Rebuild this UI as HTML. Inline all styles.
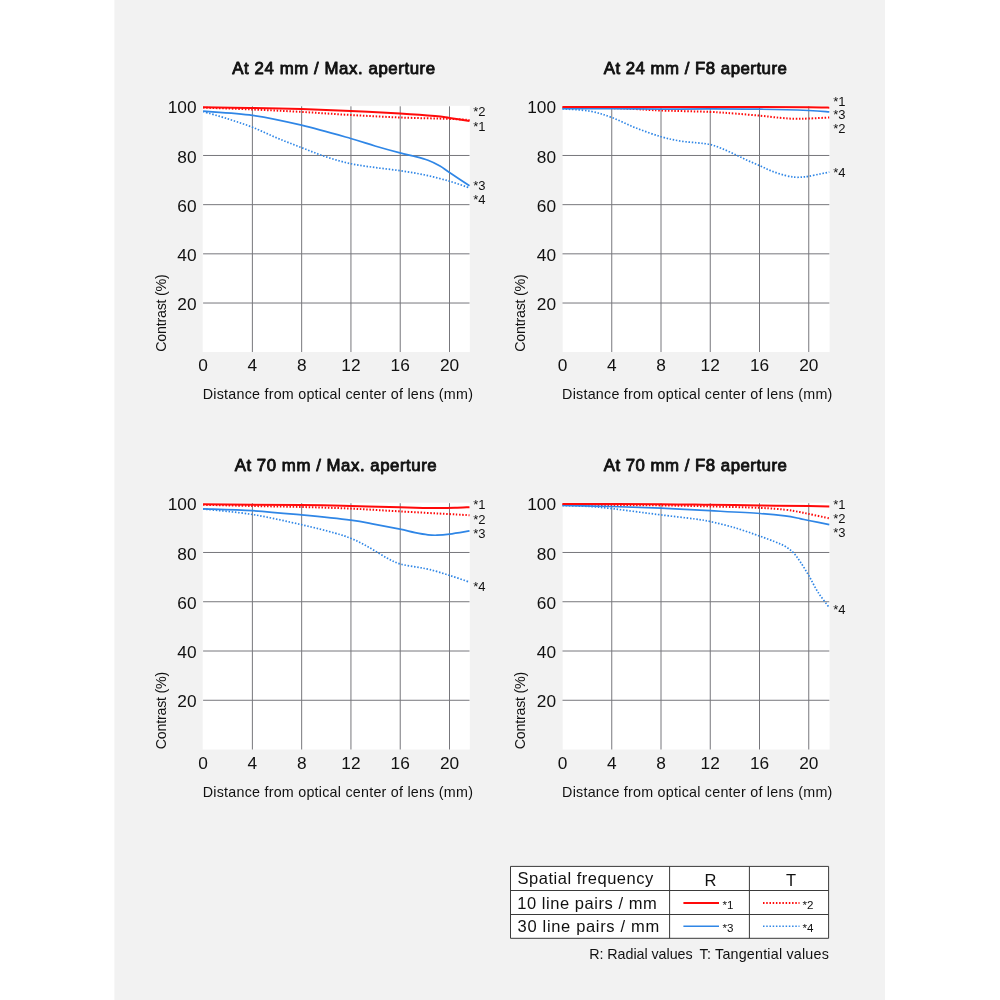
<!DOCTYPE html>
<html lang="en"><head><meta charset="utf-8"><title>MTF charts</title>
<style>
html,body{margin:0;padding:0;background:#fff;}
body{width:1000px;height:1000px;overflow:hidden;position:relative;}
svg{position:absolute;left:0;top:0;display:block;}
text{font-family:"Liberation Sans",sans-serif;fill:#111;}
.t{font-weight:normal;font-size:16.8px;fill:#111;stroke:#111;stroke-width:0.9px;stroke-linejoin:round;}
.tk{font-size:17.3px;}
.ax{font-size:14.3px;}
.sl{font-size:13px;}
.tb{font-size:16.5px;}
.lg{font-size:11.6px;}
.g{stroke:#77777c;stroke-width:1;fill:none;}
</style></head><body>
<svg width="1000" height="1000" viewBox="0 0 1000 1000">
<rect x="114.4" y="0" width="770.6" height="1000" fill="#f2f2f2"/>
<g>
<rect x="202.7" y="105.8" width="267.1" height="246.2" fill="#fff"/>
<path class="g" d="M252.38 106.30 V352.00 M301.66 106.30 V352.00 M350.94 106.30 V352.00 M400.22 106.30 V352.00 M449.50 106.30 V352.00 M203.10 155.48 H469.50 M203.10 204.66 H469.50 M203.10 253.84 H469.50 M203.10 303.02 H469.50"/>
<path d="M203.10 111.50 C207.25 112.73 219.77 116.27 228.00 118.90 C236.23 121.53 244.33 124.12 252.50 127.30 C260.67 130.48 268.83 134.62 277.00 138.00 C285.17 141.38 293.33 144.47 301.50 147.60 C309.67 150.73 317.80 154.12 326.00 156.80 C334.20 159.48 342.53 161.92 350.70 163.70 C358.87 165.48 366.78 166.33 375.00 167.50 C383.22 168.67 391.67 169.45 400.00 170.70 C408.33 171.95 416.75 173.25 425.00 175.00 C433.25 176.75 442.08 179.05 449.50 181.20 C456.92 183.35 466.17 186.78 469.50 187.90" fill="none" stroke="#2f86e6" stroke-width="1.7" stroke-dasharray="1.5 1.7"/>
<path d="M203.10 107.60 C211.33 107.92 236.10 108.78 252.50 109.50 C268.90 110.22 285.13 110.98 301.50 111.90 C317.87 112.82 334.28 114.07 350.70 115.00 C367.12 115.93 383.53 116.85 400.00 117.50 C416.47 118.15 437.92 118.48 449.50 118.90 C461.08 119.32 466.17 119.82 469.50 120.00" fill="none" stroke="#ff0a0a" stroke-width="2" stroke-dasharray="1.5 1.7"/>
<path d="M203.10 111.20 C211.33 111.90 236.10 113.07 252.50 115.40 C268.90 117.73 285.13 121.35 301.50 125.20 C317.87 129.05 338.45 135.03 350.70 138.50 C362.95 141.97 366.78 143.60 375.00 146.00 C383.22 148.40 393.50 151.20 400.00 152.90 C406.50 154.60 409.33 154.97 414.00 156.20 C418.67 157.43 423.67 158.67 428.00 160.30 C432.33 161.93 436.42 163.97 440.00 166.00 C443.58 168.03 444.58 169.22 449.50 172.50 C454.42 175.78 466.17 183.50 469.50 185.70" fill="none" stroke="#2f86e6" stroke-width="1.7"/>
<path d="M203.10 107.30 C211.33 107.42 236.10 107.70 252.50 108.00 C268.90 108.30 285.13 108.62 301.50 109.10 C317.87 109.58 334.28 110.17 350.70 110.90 C367.12 111.63 385.95 112.65 400.00 113.50 C414.05 114.35 426.75 115.27 435.00 116.00 C443.25 116.73 443.75 117.07 449.50 117.90 C455.25 118.73 466.17 120.48 469.50 121.00" fill="none" stroke="#ff0a0a" stroke-width="2"/>
<text class="t" x="232.3" y="74.2" textLength="202.8" lengthAdjust="spacing">At 24 mm / Max. aperture</text>
<text class="tk" x="196.6" y="113.4" text-anchor="end">100</text>
<text class="tk" x="196.6" y="162.6" text-anchor="end">80</text>
<text class="tk" x="196.6" y="211.8" text-anchor="end">60</text>
<text class="tk" x="196.6" y="260.9" text-anchor="end">40</text>
<text class="tk" x="196.6" y="310.1" text-anchor="end">20</text>
<text class="tk" x="203.1" y="371.1" text-anchor="middle">0</text>
<text class="tk" x="252.4" y="371.1" text-anchor="middle">4</text>
<text class="tk" x="301.7" y="371.1" text-anchor="middle">8</text>
<text class="tk" x="350.9" y="371.1" text-anchor="middle">12</text>
<text class="tk" x="400.2" y="371.1" text-anchor="middle">16</text>
<text class="tk" x="449.5" y="371.1" text-anchor="middle">20</text>
<text class="ax" x="202.7" y="399.0" textLength="270.2" lengthAdjust="spacing">Distance from optical center of lens (mm)</text>
<text class="ax" transform="translate(165.8 351.7) rotate(-90)" textLength="77.5" lengthAdjust="spacing">Contrast (%)</text>
<text class="sl" x="473.2" y="115.6">*2</text>
<text class="sl" x="473.2" y="131.0">*1</text>
<text class="sl" x="473.2" y="189.8">*3</text>
<text class="sl" x="473.2" y="204.2">*4</text>
</g>
<g>
<rect x="562.7" y="105.8" width="266.9" height="246.2" fill="#fff"/>
<path class="g" d="M611.75 106.30 V352.00 M661.00 106.30 V352.00 M710.25 106.30 V352.00 M759.50 106.30 V352.00 M808.75 106.30 V352.00 M562.50 155.48 H829.30 M562.50 204.66 H829.30 M562.50 253.84 H829.30 M562.50 303.02 H829.30"/>
<path d="M562.50 108.80 C567.08 109.20 581.78 109.75 590.00 111.20 C598.22 112.65 604.13 114.70 611.80 117.50 C619.47 120.30 627.80 124.80 636.00 128.00 C644.20 131.20 653.67 134.53 661.00 136.70 C668.33 138.87 674.00 139.98 680.00 141.00 C686.00 142.02 692.00 142.22 697.00 142.80 C702.00 143.38 705.83 143.53 710.00 144.50 C714.17 145.47 717.83 146.95 722.00 148.60 C726.17 150.25 730.83 152.47 735.00 154.40 C739.17 156.33 742.83 158.30 747.00 160.20 C751.17 162.10 755.83 163.97 760.00 165.80 C764.17 167.63 767.83 169.60 772.00 171.20 C776.17 172.80 781.17 174.40 785.00 175.40 C788.83 176.40 792.00 176.93 795.00 177.20 C798.00 177.47 800.72 177.15 803.00 177.00 C805.28 176.85 805.87 176.80 808.70 176.30 C811.53 175.80 816.57 174.70 820.00 174.00 C823.43 173.30 827.75 172.42 829.30 172.10" fill="none" stroke="#2f86e6" stroke-width="1.7" stroke-dasharray="1.5 1.7"/>
<path d="M562.50 107.40 C570.72 107.52 599.55 107.82 611.80 108.10 C624.05 108.38 627.80 108.70 636.00 109.10 C644.20 109.50 648.67 110.03 661.00 110.50 C673.33 110.97 697.67 111.38 710.00 111.90 C722.33 112.42 726.67 112.97 735.00 113.60 C743.33 114.23 752.50 115.00 760.00 115.70 C767.50 116.40 774.17 117.28 780.00 117.80 C785.83 118.32 790.22 118.68 795.00 118.80 C799.78 118.92 802.98 118.72 808.70 118.50 C814.42 118.28 825.87 117.67 829.30 117.50" fill="none" stroke="#ff0a0a" stroke-width="2" stroke-dasharray="1.5 1.7"/>
<path d="M562.50 108.70 C570.72 108.70 595.38 108.63 611.80 108.70 C628.22 108.77 644.63 109.07 661.00 109.10 C677.37 109.13 693.50 108.88 710.00 108.90 C726.50 108.92 743.55 108.93 760.00 109.20 C776.45 109.47 797.15 110.05 808.70 110.50 C820.25 110.95 825.87 111.67 829.30 111.90" fill="none" stroke="#2f86e6" stroke-width="1.7"/>
<path d="M562.50 107.00 C585.42 107.00 658.97 106.97 700.00 107.00 C741.03 107.03 787.15 107.08 808.70 107.20 C830.25 107.32 825.87 107.62 829.30 107.70" fill="none" stroke="#ff0a0a" stroke-width="2"/>
<text class="t" x="603.7" y="74.2" textLength="183.2" lengthAdjust="spacing">At 24 mm / F8 aperture</text>
<text class="tk" x="556.0" y="113.4" text-anchor="end">100</text>
<text class="tk" x="556.0" y="162.6" text-anchor="end">80</text>
<text class="tk" x="556.0" y="211.8" text-anchor="end">60</text>
<text class="tk" x="556.0" y="260.9" text-anchor="end">40</text>
<text class="tk" x="556.0" y="310.1" text-anchor="end">20</text>
<text class="tk" x="562.5" y="371.1" text-anchor="middle">0</text>
<text class="tk" x="611.8" y="371.1" text-anchor="middle">4</text>
<text class="tk" x="661.0" y="371.1" text-anchor="middle">8</text>
<text class="tk" x="710.2" y="371.1" text-anchor="middle">12</text>
<text class="tk" x="759.5" y="371.1" text-anchor="middle">16</text>
<text class="tk" x="808.8" y="371.1" text-anchor="middle">20</text>
<text class="ax" x="562.1" y="399.0" textLength="270.2" lengthAdjust="spacing">Distance from optical center of lens (mm)</text>
<text class="ax" transform="translate(525.2 351.7) rotate(-90)" textLength="77.5" lengthAdjust="spacing">Contrast (%)</text>
<text class="sl" x="833.2" y="106.2">*1</text>
<text class="sl" x="833.2" y="119.4">*3</text>
<text class="sl" x="833.2" y="132.7">*2</text>
<text class="sl" x="833.2" y="177.1">*4</text>
</g>
<g>
<rect x="202.7" y="502.7" width="267.1" height="246.8" fill="#fff"/>
<path class="g" d="M252.38 503.20 V749.50 M301.66 503.20 V749.50 M350.94 503.20 V749.50 M400.22 503.20 V749.50 M449.50 503.20 V749.50 M203.10 552.47 H469.50 M203.10 601.74 H469.50 M203.10 651.01 H469.50 M203.10 700.28 H469.50"/>
<path d="M203.10 509.00 C211.33 509.92 236.10 511.88 252.50 514.50 C268.90 517.12 287.75 521.60 301.50 524.70 C315.25 527.80 326.80 530.83 335.00 533.10 C343.20 535.37 346.03 536.48 350.70 538.30 C355.37 540.12 358.95 541.90 363.00 544.00 C367.05 546.10 370.83 548.47 375.00 550.90 C379.17 553.33 383.83 556.43 388.00 558.60 C392.17 560.77 395.50 562.53 400.00 563.90 C404.50 565.27 410.00 565.85 415.00 566.80 C420.00 567.75 424.25 568.17 430.00 569.60 C435.75 571.03 442.92 573.32 449.50 575.40 C456.08 577.48 466.17 580.98 469.50 582.10" fill="none" stroke="#2f86e6" stroke-width="1.7" stroke-dasharray="1.5 1.7"/>
<path d="M203.10 504.80 C211.25 505.00 235.60 505.63 252.00 506.00 C268.40 506.37 285.05 506.57 301.50 507.00 C317.95 507.43 334.28 507.87 350.70 508.60 C367.12 509.33 383.53 510.48 400.00 511.40 C416.47 512.32 437.92 513.47 449.50 514.10 C461.08 514.73 466.17 515.02 469.50 515.20" fill="none" stroke="#ff0a0a" stroke-width="2" stroke-dasharray="1.5 1.7"/>
<path d="M203.10 508.90 C211.33 509.20 236.10 509.70 252.50 510.70 C268.90 511.70 285.13 513.33 301.50 514.90 C317.87 516.47 338.45 518.53 350.70 520.10 C362.95 521.67 366.78 522.78 375.00 524.30 C383.22 525.82 393.33 527.82 400.00 529.20 C406.67 530.58 410.33 531.67 415.00 532.60 C419.67 533.53 424.33 534.37 428.00 534.80 C431.67 535.23 433.42 535.32 437.00 535.20 C440.58 535.08 444.08 534.82 449.50 534.10 C454.92 533.38 466.17 531.43 469.50 530.90" fill="none" stroke="#2f86e6" stroke-width="1.7"/>
<path d="M203.10 504.30 C219.50 504.43 276.90 504.82 301.50 505.10 C326.10 505.38 334.28 505.63 350.70 506.00 C367.12 506.37 387.62 506.97 400.00 507.30 C412.38 507.63 418.33 507.87 425.00 508.00 C431.67 508.13 435.00 508.13 440.00 508.10 C445.00 508.07 450.08 507.95 455.00 507.80 C459.92 507.65 467.08 507.30 469.50 507.20" fill="none" stroke="#ff0a0a" stroke-width="2"/>
<text class="t" x="234.7" y="471.1" textLength="202.0" lengthAdjust="spacing">At 70 mm / Max. aperture</text>
<text class="tk" x="196.6" y="510.3" text-anchor="end">100</text>
<text class="tk" x="196.6" y="559.6" text-anchor="end">80</text>
<text class="tk" x="196.6" y="608.8" text-anchor="end">60</text>
<text class="tk" x="196.6" y="658.1" text-anchor="end">40</text>
<text class="tk" x="196.6" y="707.4" text-anchor="end">20</text>
<text class="tk" x="203.1" y="768.6" text-anchor="middle">0</text>
<text class="tk" x="252.4" y="768.6" text-anchor="middle">4</text>
<text class="tk" x="301.7" y="768.6" text-anchor="middle">8</text>
<text class="tk" x="350.9" y="768.6" text-anchor="middle">12</text>
<text class="tk" x="400.2" y="768.6" text-anchor="middle">16</text>
<text class="tk" x="449.5" y="768.6" text-anchor="middle">20</text>
<text class="ax" x="202.7" y="796.5" textLength="270.2" lengthAdjust="spacing">Distance from optical center of lens (mm)</text>
<text class="ax" transform="translate(165.8 749.2) rotate(-90)" textLength="77.5" lengthAdjust="spacing">Contrast (%)</text>
<text class="sl" x="473.2" y="509.4">*1</text>
<text class="sl" x="473.2" y="523.6">*2</text>
<text class="sl" x="473.2" y="538.3">*3</text>
<text class="sl" x="473.2" y="590.6">*4</text>
</g>
<g>
<rect x="562.7" y="502.7" width="266.9" height="246.8" fill="#fff"/>
<path class="g" d="M611.75 503.20 V749.50 M661.00 503.20 V749.50 M710.25 503.20 V749.50 M759.50 503.20 V749.50 M808.75 503.20 V749.50 M562.50 552.47 H829.30 M562.50 601.74 H829.30 M562.50 651.01 H829.30 M562.50 700.28 H829.30"/>
<path d="M562.50 505.60 C567.08 505.75 581.78 506.00 590.00 506.50 C598.22 507.00 604.13 507.73 611.80 508.60 C619.47 509.47 627.80 510.65 636.00 511.70 C644.20 512.75 651.17 513.68 661.00 514.90 C670.83 516.12 686.83 517.90 695.00 519.00 C703.17 520.10 703.33 520.03 710.00 521.50 C716.67 522.97 726.67 525.35 735.00 527.80 C743.33 530.25 753.33 533.87 760.00 536.20 C766.67 538.53 770.83 540.12 775.00 541.80 C779.17 543.48 782.00 544.55 785.00 546.30 C788.00 548.05 790.50 549.78 793.00 552.30 C795.50 554.82 797.38 557.55 800.00 561.40 C802.62 565.25 805.70 570.27 808.70 575.40 C811.70 580.53 814.57 586.83 818.00 592.20 C821.43 597.57 827.42 605.03 829.30 607.60" fill="none" stroke="#2f86e6" stroke-width="1.7" stroke-dasharray="1.5 1.7"/>
<path d="M562.50 504.60 C570.72 504.67 595.38 504.87 611.80 505.00 C628.22 505.13 644.63 505.17 661.00 505.40 C677.37 505.63 693.50 505.98 710.00 506.40 C726.50 506.82 747.50 507.35 760.00 507.90 C772.50 508.45 778.33 509.00 785.00 509.70 C791.67 510.40 796.05 511.40 800.00 512.10 C803.95 512.80 803.82 512.87 808.70 513.90 C813.58 514.93 825.87 517.57 829.30 518.30" fill="none" stroke="#ff0a0a" stroke-width="2" stroke-dasharray="1.5 1.7"/>
<path d="M562.50 505.40 C570.72 505.58 595.38 506.03 611.80 506.50 C628.22 506.97 644.63 507.50 661.00 508.20 C677.37 508.90 693.50 509.82 710.00 510.70 C726.50 511.58 747.50 512.63 760.00 513.50 C772.50 514.37 778.33 515.05 785.00 515.90 C791.67 516.75 796.05 517.83 800.00 518.60 C803.95 519.37 803.82 519.50 808.70 520.50 C813.58 521.50 825.87 523.92 829.30 524.60" fill="none" stroke="#2f86e6" stroke-width="1.7"/>
<path d="M562.50 504.00 C578.92 504.03 636.42 504.07 661.00 504.20 C685.58 504.33 693.50 504.60 710.00 504.80 C726.50 505.00 743.55 505.18 760.00 505.40 C776.45 505.62 797.15 505.93 808.70 506.10 C820.25 506.27 825.87 506.35 829.30 506.40" fill="none" stroke="#ff0a0a" stroke-width="2"/>
<text class="t" x="603.7" y="471.1" textLength="183.2" lengthAdjust="spacing">At 70 mm / F8 aperture</text>
<text class="tk" x="556.0" y="510.3" text-anchor="end">100</text>
<text class="tk" x="556.0" y="559.6" text-anchor="end">80</text>
<text class="tk" x="556.0" y="608.8" text-anchor="end">60</text>
<text class="tk" x="556.0" y="658.1" text-anchor="end">40</text>
<text class="tk" x="556.0" y="707.4" text-anchor="end">20</text>
<text class="tk" x="562.5" y="768.6" text-anchor="middle">0</text>
<text class="tk" x="611.8" y="768.6" text-anchor="middle">4</text>
<text class="tk" x="661.0" y="768.6" text-anchor="middle">8</text>
<text class="tk" x="710.2" y="768.6" text-anchor="middle">12</text>
<text class="tk" x="759.5" y="768.6" text-anchor="middle">16</text>
<text class="tk" x="808.8" y="768.6" text-anchor="middle">20</text>
<text class="ax" x="562.1" y="796.5" textLength="270.2" lengthAdjust="spacing">Distance from optical center of lens (mm)</text>
<text class="ax" transform="translate(525.2 749.2) rotate(-90)" textLength="77.5" lengthAdjust="spacing">Contrast (%)</text>
<text class="sl" x="833.2" y="508.9">*1</text>
<text class="sl" x="833.2" y="522.5">*2</text>
<text class="sl" x="833.2" y="536.5">*3</text>
<text class="sl" x="833.2" y="614.3">*4</text>
</g>
<g>
<rect x="510.5" y="866.4" width="318.1" height="71.9" fill="#fff"/>
<path d="M510.5 866.4 H828.6 V938.3 H510.5 Z M510.5 890.5 H828.6 M510.5 914.5 H828.6 M669.6 866.4 V938.3 M749.4 866.4 V938.3" fill="none" stroke="#3a3a3a" stroke-width="1"/>
<text class="tb" x="517.6" y="884.2" textLength="135.6" lengthAdjust="spacing">Spatial frequency</text>
<text class="tb" x="517.2" y="908.5" textLength="139.6" lengthAdjust="spacing">10 line pairs / mm</text>
<text class="tb" x="517.6" y="932.4" textLength="141.6" lengthAdjust="spacing">30 line pairs / mm</text>
<text class="tb" x="710.4" y="885.6" text-anchor="middle">R</text>
<text class="tb" x="791.0" y="885.6" text-anchor="middle">T</text>
<path d="M683.4 903 H719" stroke="#ff0a0a" stroke-width="2" fill="none"/>
<path d="M763 903 H799.5" stroke="#ff0a0a" stroke-width="2" stroke-dasharray="1.5 1.73" fill="none"/>
<path d="M683.4 926.3 H719" stroke="#2f86e6" stroke-width="1.6" fill="none"/>
<path d="M763 926.3 H799.5" stroke="#2f86e6" stroke-width="1.6" stroke-dasharray="1.5 1.73" fill="none"/>
<text class="lg" x="722.6" y="908.5">*1</text>
<text class="lg" x="802.6" y="908.5">*2</text>
<text class="lg" x="722.6" y="931.5">*3</text>
<text class="lg" x="802.6" y="931.5">*4</text>
<text class="ax" y="959.3"><tspan x="589.2" textLength="103.4" lengthAdjust="spacing">R: Radial values</tspan> <tspan x="699.6" textLength="129.2" lengthAdjust="spacing">T: Tangential values</tspan></text>
</g>
</svg>
</body></html>
